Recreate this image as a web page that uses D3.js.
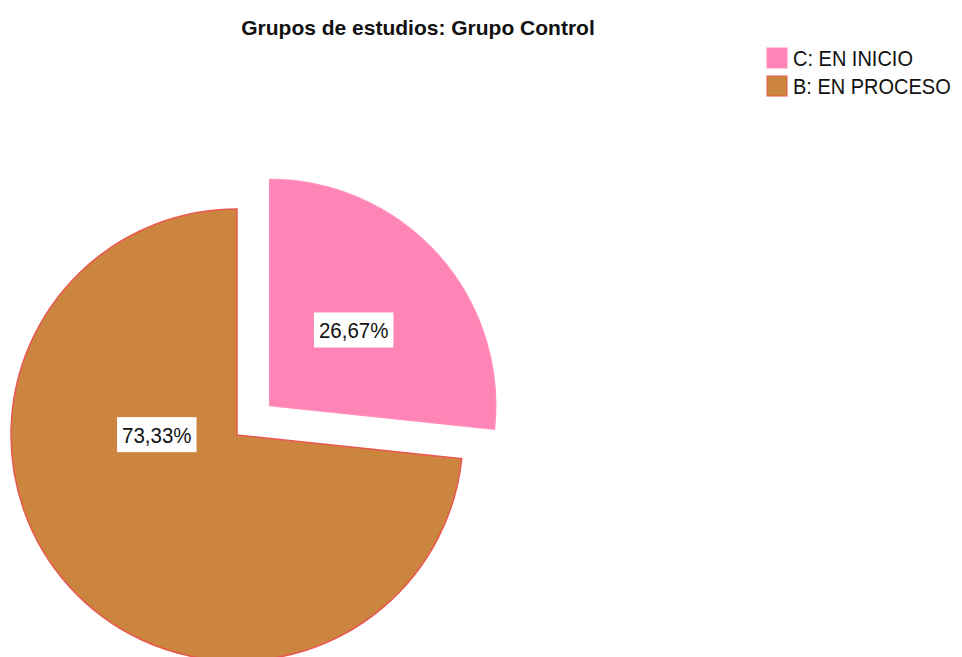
<!DOCTYPE html>
<html>
<head>
<meta charset="utf-8">
<script src="https://d3js.org/d3.v7.min.js"></script>
<style>
  body { margin: 0; background: #fff; }
  text { font-family: "Liberation Sans", Arial, sans-serif; fill: #111; }
</style>
</head>
<body>
<svg id="chart" width="962" height="657"></svg>
<script>
const categories = ["C: EN INICIO", "B: EN PROCESO"];
const values = [26.67, 73.33];
const labels = ["26,67%", "73,33%"];
const fills = ["#ff85b6", "#cc853f"];
const strokes = ["#ff8dba", "#e8584f"];
const exploded = [true, false];
// where along the slice / how far out the value box sits
const labelAt = [0.5, 0.66];
const labelRad = [0.5, 0.355];

const svg = d3.select("#chart");

svg.append("text")
  .attr("x", 418).attr("y", 35)
  .attr("text-anchor", "middle")
  .style("font-weight", "bold")
  .style("font-size", "21px")
  .text("Grupos de estudios: Grupo Control");

const radius = 226;
const cx = 237, cy = 435;
const explode = 44;

const pie = d3.pie().sort(null).value(d => d);
const arcs = pie(values);
const arc = d3.arc().innerRadius(0).outerRadius(radius);

const g = svg.append("g").attr("transform", `translate(${cx},${cy})`);

const slice = g.selectAll(".slice")
  .data(arcs)
  .enter()
  .append("g")
  .attr("class", "slice")
  .attr("transform", (d, i) => {
    if (!exploded[i]) return null;
    const [x, y] = d3.pointRadial((d.startAngle + d.endAngle) / 2, explode);
    return `translate(${x},${y})`;
  });

slice.append("path")
  .attr("d", arc)
  .attr("fill", (d, i) => fills[i])
  .attr("stroke", (d, i) => strokes[i])
  .attr("stroke-width", 1.5);

slice.each(function (d, i) {
  const a = d.startAngle + (d.endAngle - d.startAngle) * labelAt[i];
  const [x, y] = d3.pointRadial(a, radius * labelRad[i]);
  const lg = d3.select(this).append("g").attr("transform", `translate(${x},${y})`);
  const t = lg.append("text")
    .attr("text-anchor", "middle")
    .attr("dy", "0.36em")
    .attr("transform", "scale(1,1.1)")
    .style("font-size", "20.5px")
    .text(labels[i]);
  const w = t.node().getComputedTextLength();
  lg.insert("rect", "text")
    .attr("x", -w / 2 - 5).attr("y", -17.5)
    .attr("width", w + 10).attr("height", 35)
    .attr("fill", "#fff");
});

const legend = svg.append("g").attr("transform", "translate(767,48)");
const item = legend.selectAll(".item")
  .data(categories)
  .enter()
  .append("g")
  .attr("transform", (d, i) => `translate(0,${i * 28})`);

item.append("rect")
  .attr("width", 20).attr("height", 20)
  .attr("fill", (d, i) => fills[i])
  .attr("stroke", (d, i) => strokes[i])
  .attr("stroke-width", 1);

item.append("text")
  .attr("x", 26).attr("y", 10)
  .attr("dy", "0.36em")
  .attr("transform", "translate(0,10) scale(1,1.1) translate(0,-10)")
  .style("font-size", "20px")
  .text(d => d);
</script>
</body>
</html>
